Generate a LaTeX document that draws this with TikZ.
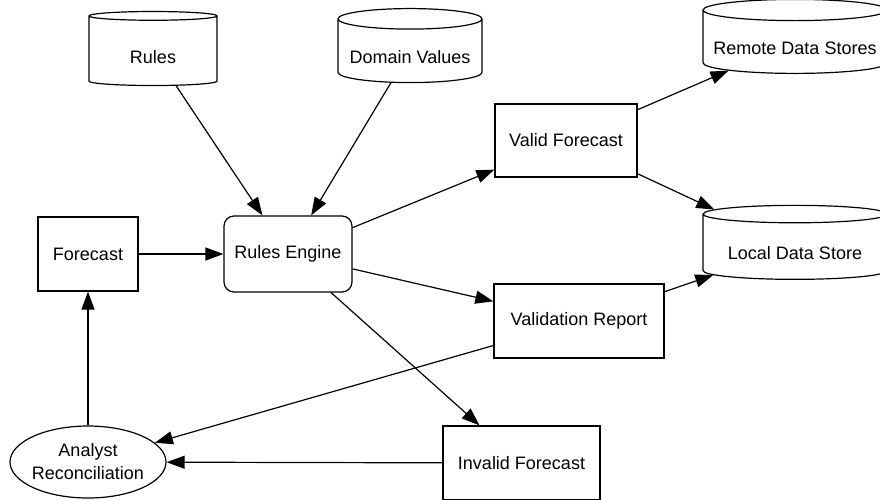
\documentclass[tikz,border=0pt]{standalone}
\usepackage{fontspec}
\setmainfont{Liberation Sans}
\usetikzlibrary{shapes.geometric,arrows.meta}
\begin{document}
\begin{tikzpicture}[x=1pt,y=-1pt,
        every node/.style={font=\fontsize{18}{23}\selectfont,inner sep=0pt},
        box/.style={draw,line width=1.2pt,rectangle,minimum height=74pt},
        store/.style={draw,line width=1.2pt,cylinder,shape border rotate=90,
                      minimum height=74pt,text height=30pt,text depth=5pt},
        flow/.style={line width=1.2pt,-{Triangle[length=18pt,width=13pt]}}]

            \useasboundingbox (0,0) rectangle (880,499);

            % data stores
            \node[store,minimum width=128pt,aspect=0.19]  (rules)  at (153,51)  {Rules};
            \node[store,minimum width=144pt,aspect=0.17]  (domain) at (410,51)  {Domain Values};
            \node[store,minimum width=184pt,aspect=0.13]  (remote) at (795,42)  {Remote Data Stores};
            \node[store,minimum width=184pt,aspect=0.13]  (local)  at (795,247) {Local Data Store};

            % processes
            \node[box,minimum width=100pt] (fcst)    at (88,254)    {Forecast};
            \node[box,minimum width=128pt,minimum height=76pt,rounded corners=10pt] (engine) at (288,254) {Rules Engine};
            \node[box,minimum width=142pt,minimum height=73pt] (valid)   at (566,140.5) {Valid Forecast};
            \node[box,minimum width=170pt] (report)  at (579,321)   {Validation Report};
            \node[box,minimum width=157pt] (invalid) at (521.5,463) {Invalid Forecast};
            \node[draw,line width=1.2pt,ellipse,minimum width=156pt,minimum height=72pt,inner xsep=-6pt,align=center] (analyst) at (88,462) {Analyst\\Reconciliation};

            \foreach \a/\b in {rules/engine,domain/engine,fcst/engine,engine/valid,engine/report,engine/invalid,
                               valid/remote,valid/local,report/local,report/analyst,invalid/analyst,analyst/fcst} {
                \draw[flow] (\a) -- (\b);
            }
        \end{tikzpicture}
\end{document}
